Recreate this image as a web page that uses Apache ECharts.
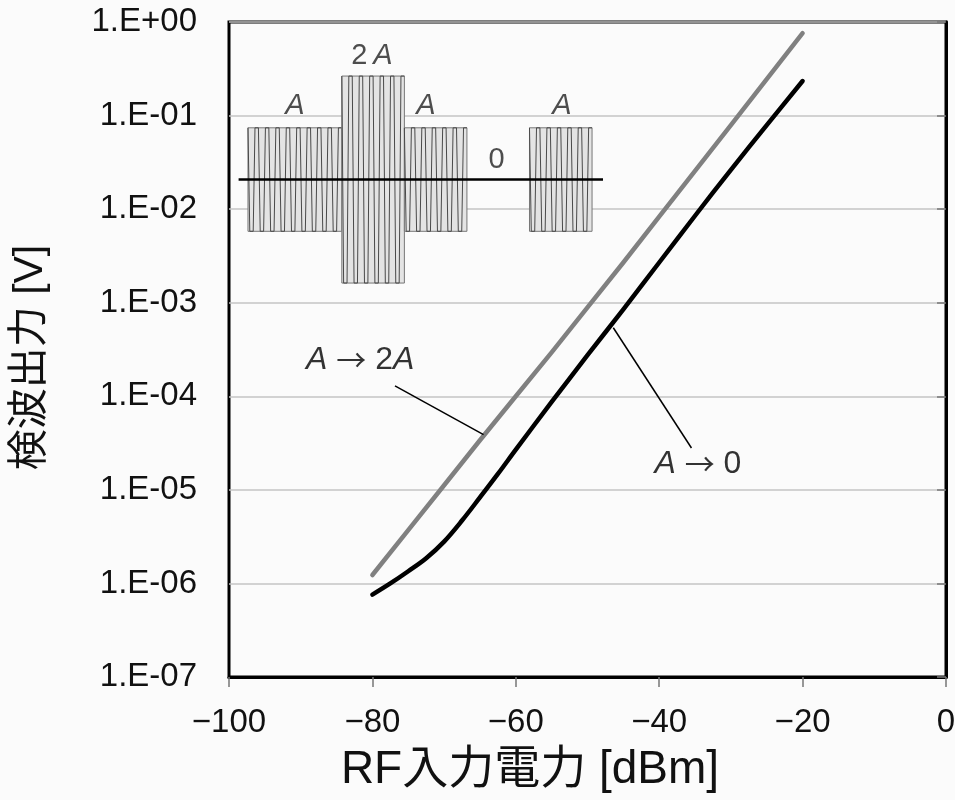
<!DOCTYPE html>
<html>
<head>
<meta charset="utf-8">
<script src="https://cdn.jsdelivr.net/npm/echarts@6.0.0/dist/echarts.min.js"></script>
<style>
html,body{margin:0;padding:0;background:#fbfbfb;}
#chart{width:955px;height:800px;}
</style>
</head>
<body>
<div id="chart"></div>
<script>
// ---- data ----
const xTickLabels = ['\u2212100', '\u221280', '\u221260', '\u221240', '\u221220', '0'];
const yTickLabels = ['1.E-07', '1.E-06', '1.E-05', '1.E-04', '1.E-03', '1.E-02', '1.E-01', '1.E+00'];

const grayName = 'A \u2192 2A';
const grayX = [-80, -75, -70, -65, -60, -55, -50, -45, -40, -35, -30, -25, -20];
const grayY = [1.23e-6, 3.72e-6, 1.12e-5, 3.39e-5, 1.0e-4, 2.95e-4, 8.9e-4, 2.69e-3, 8.3e-3, 2.57e-2, 7.9e-2, 0.245, 0.76];

const blackName = 'A \u2192 0';
const blackX = [-80, -77.5, -75, -72.5, -70, -67.5, -65, -62.5, -60, -55, -50, -45, -40, -35, -30, -25, -20];
const blackY = [7.6e-7, 1.0e-6, 1.35e-6, 1.86e-6, 2.8e-6, 4.7e-6, 8.3e-6, 1.48e-5, 2.69e-5, 8.7e-5, 2.75e-4, 8.5e-4, 2.69e-3, 8.5e-3, 2.63e-2, 7.9e-2, 0.234];

// annotations (text anchor and leader line ends, in data units)
const annoText = [grayName, blackName];
const annoTextX = [-81.7, -34.6];
const annoTextY = [2.45e-4, 1.9e-5];
const leaderFromX = [-76.85, -46.4];
const leaderFromY = [1.29e-4, 5.4e-4];
const leaderToX = [-64.5, -35.5];
const leaderToY = [3.9e-5, 2.8e-5];

// inset: envelope of the modulated carrier (time units, amplitude in A)
const segStart = [0, 6, 10, 14, 18];
const segEnd = [6, 10, 14, 18, 22];
const segAmp = [1, 2, 1, 0, 1];
const baseline = [-0.6, 22.7];
const insetLabelText = ['A', '2\u2009A', 'A', 'A', '0'];
const insetLabelX = [3, 7.93, 11.37, 20.08, 15.9];
const insetLabelY = [1.43, 2.39, 1.43, 1.43, 0.38];

// ---- chart ----
const FONT = '"Liberation Sans", Arial, "Noto Sans CJK JP", sans-serif';
const ARROWFONT = '"Noto Sans CJK JP", "DejaVu Sans", sans-serif';
const richText = s => s.replace(/A/g, '{i|A}').replace(/\u2192/g, '{a|\u2192}');

const chart = echarts.init(document.getElementById('chart'), null, {renderer: 'canvas'});

const option = {
  backgroundColor: '#fbfbfb',
  animation: false,
  textStyle: {fontFamily: FONT},
  grid: [
    {left: 229, top: 22, width: 717, height: 655, show: true, borderColor: '#000', borderWidth: 3,
     backgroundColor: 'transparent', containLabel: false, outerBoundsMode: 'none'},
    {left: 238.6, top: 45, width: 364.4, height: 269.1, containLabel: false, outerBoundsMode: 'none'}
  ],
  xAxis: [
    {
      type: 'value', gridIndex: 0, min: -100, max: 0, interval: 20,
      axisLine: {show: true, lineStyle: {color: '#000', width: 3}},
      axisTick: {show: true, length: 10, lineStyle: {color: '#777', width: 1.5}},
      splitLine: {show: false},
      axisLabel: {
        fontSize: 33, color: '#111', margin: 29, fontFamily: FONT,
        formatter: v => xTickLabels[Math.round((v + 100) / 20)]
      },
      name: 'RF入力電力 [dBm]', nameLocation: 'middle', nameGap: 70,
      nameTextStyle: {fontSize: 46, color: '#111', fontFamily: FONT, padding: [0, 115, 0, 0]}
    },
    {type: 'value', gridIndex: 1, min: baseline[0], max: baseline[1], show: false}
  ],
  yAxis: [
    {
      type: 'log', logBase: 10, gridIndex: 0, min: 1e-7, max: 1, splitNumber: 7,
      axisLine: {show: true, lineStyle: {color: '#000', width: 3}},
      axisTick: {show: true, length: 9, lineStyle: {color: '#777', width: 1.5}},
      splitLine: {show: true, lineStyle: {color: '#c4c4c4', width: 1.5}},
      axisLabel: {
        fontSize: 33, color: '#111', margin: 32, fontFamily: FONT,
        formatter: v => yTickLabels[Math.round(Math.log10(v)) + 7]
      },
      name: '検波出力 [V]', nameLocation: 'middle', nameGap: 178,
      nameTextStyle: {fontSize: 41, color: '#111', fontFamily: FONT, padding: [0, 16, 0, 0]}
    },
    {type: 'value', gridIndex: 1, min: -2.6, max: 2.6, show: false}
  ],
  series: [
    {
      name: grayName, type: 'line', xAxisIndex: 0, yAxisIndex: 0,
      data: grayX.map((x, i) => [x, grayY[i]]),
      showSymbol: false, symbol: 'none', smooth: false,
      lineStyle: {color: '#808080', width: 4.5, cap: 'round', join: 'round'}, z: 3
    },
    {
      name: blackName, type: 'line', xAxisIndex: 0, yAxisIndex: 0,
      data: blackX.map((x, i) => [x, blackY[i]]),
      showSymbol: false, symbol: 'none', smooth: 0.35,
      lineStyle: {color: '#000', width: 4.5, cap: 'round', join: 'round'}, z: 3
    },
    ...annoText.map((t, i) => ({
      type: 'line', xAxisIndex: 0, yAxisIndex: 0, silent: true,
      data: [[leaderFromX[i], leaderFromY[i]], [leaderToX[i], leaderToY[i]]],
      symbol: 'none', lineStyle: {color: '#000', width: 1.5}, z: 4
    })),
    {
      type: 'scatter', xAxisIndex: 0, yAxisIndex: 0, silent: true, symbolSize: 0,
      data: annoText.map((t, i) => [annoTextX[i], annoTextY[i], t]),
      label: {
        show: true, position: 'inside', color: '#000', fontSize: 32, fontFamily: FONT,
        formatter: p => richText(p.data[2]),
        rich: {
          i: {fontStyle: 'italic', fontSize: 32, color: '#000', fontFamily: FONT},
          a: {fontSize: 30, color: '#000', fontFamily: ARROWFONT}
        }
      }, z: 5
    },
    // inset blocks with carrier texture
    {
      type: 'custom', xAxisIndex: 1, yAxisIndex: 1, silent: true, clip: false,
      data: segStart.map((s, i) => [s, segEnd[i], segAmp[i]]).filter(d => d[2] > 0),
      renderItem: (params, api) => {
        const x0 = api.value(0), x1 = api.value(1), amp = api.value(2);
        const tl = api.coord([x0, amp]);
        const br = api.coord([x1, -amp]);
        const w = br[0] - tl[0], h = br[1] - tl[1];
        const n = Math.max(2, Math.round(w / 5.3));
        const step = w / n;
        const tilt = 1.8;
        const pts = [[tl[0], tl[1]]];
        for (let k = 0; k < n; k++) {
          const xa = tl[0] + k * step;
          const fromTop = k % 2 === 0;
          pts.push([xa + tilt, fromTop ? br[1] : tl[1]]);
          pts.push([xa + step, fromTop ? br[1] : tl[1]]);
        }
        return {
          type: 'group',
          children: [
            {type: 'rect', shape: {x: tl[0], y: tl[1], width: w, height: h},
             style: {fill: '#e4e4e4', stroke: '#777', lineWidth: 1}},
            {type: 'polyline', shape: {points: pts},
             style: {stroke: '#4a4a4a', lineWidth: 1, fill: null}}
          ]
        };
      }, z: 6
    },
    {
      type: 'line', xAxisIndex: 1, yAxisIndex: 1, silent: true,
      data: [[baseline[0], 0], [baseline[1], 0]],
      symbol: 'none', lineStyle: {color: '#000', width: 2.5}, z: 7
    },
    {
      type: 'scatter', xAxisIndex: 1, yAxisIndex: 1, silent: true, symbolSize: 0, clip: false,
      data: insetLabelText.map((t, i) => [insetLabelX[i], insetLabelY[i], t]),
      label: {
        show: true, position: 'inside', color: '#222', fontSize: 29, fontFamily: FONT,
        formatter: p => richText(p.data[2]),
        rich: {i: {fontStyle: 'italic', fontSize: 29, color: '#222', fontFamily: FONT}}
      }, z: 8
    }
  ]
};
chart.setOption(option);
</script>
</body>
</html>
